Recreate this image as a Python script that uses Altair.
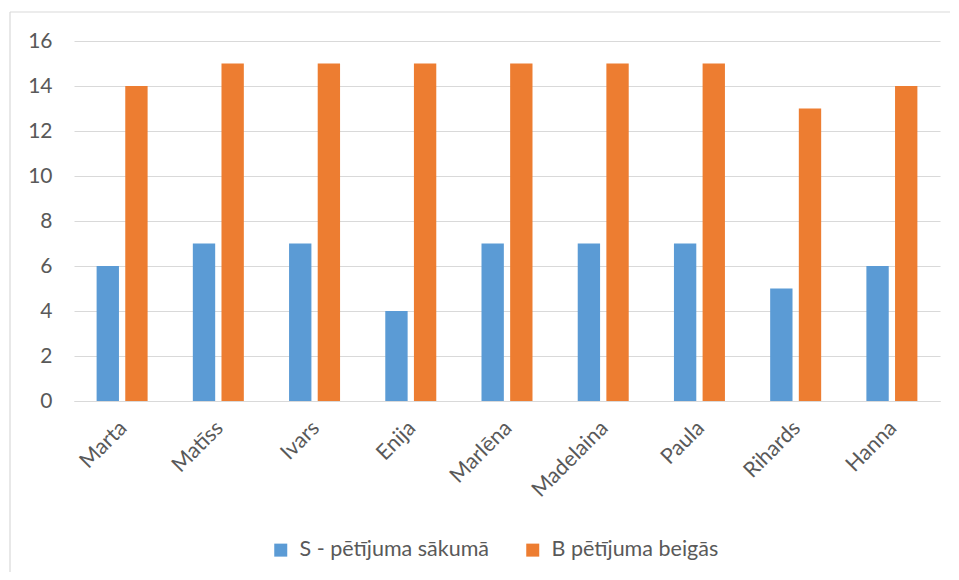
import altair as alt
import pandas as pd

names = ["Marta", "Matīss", "Ivars", "Enija", "Marlēna", "Madelaina", "Paula", "Rihards", "Hanna"]
start_vals = [6, 7, 7, 4, 7, 7, 7, 5, 6]
end_vals = [14, 15, 15, 15, 15, 15, 15, 13, 14]
series = ["S - pētījuma sākumā", "B pētījuma beigās"]
colors = ["#5B9BD5", "#ED7D31"]
y_ticks = [0, 2, 4, 6, 8, 10, 12, 14, 16]

rows = []
for n, s, e in zip(names, start_vals, end_vals):
    rows.append({"name": n, "series": series[0], "value": s})
    rows.append({"name": n, "series": series[1], "value": e})
df = pd.DataFrame(rows)

FONT = "Lato"
TXT = "#595959"
GRID = "#D9D9D9"

bars = alt.Chart(df).mark_bar().encode(
    x=alt.X("name:N", sort=names, title=None,
            scale=alt.Scale(paddingInner=0.47, paddingOuter=0.235),
            axis=alt.Axis(labelAngle=-45, labelFontSize=21.5, labelColor=TXT, labelFont=FONT,
                          ticks=False, tickSize=0, labelPadding=16, labelOffset=-6,
                          domainColor=GRID, domainWidth=1, labelOverlap=False)),
    xOffset=alt.XOffset("series:N", sort=series,
                        scale=alt.Scale(paddingInner=0.22, paddingOuter=0)),
    y=alt.Y("value:Q", title=None,
            scale=alt.Scale(domain=[0, 16], nice=False),
            axis=alt.Axis(values=y_ticks, domain=False, ticks=False, tickSize=0,
                          labelPadding=22, labelFontSize=21, labelColor=TXT, labelFont=FONT,
                          gridColor=GRID, gridWidth=1)),
    color=alt.Color("series:N", sort=series,
                    scale=alt.Scale(domain=series, range=colors),
                    legend=alt.Legend(title=None, orient="none", direction="horizontal",
                                      legendX=196, legendY=498, symbolType="square",
                                      symbolSize=169, symbolStrokeWidth=0, labelFontSize=21.5,
                                      labelColor=TXT, labelFont=FONT, labelOffset=8,
                                      columnPadding=32, labelLimit=400)),
)

border_data = alt.Data(values=[{"k": 1}])
top_border = alt.Chart(border_data).mark_rule(color=GRID, strokeWidth=1.2).encode(
    x=alt.value(-64), x2=alt.value(900), y=alt.value(-29))
left_border = alt.Chart(border_data).mark_rule(color=GRID, strokeWidth=1.2).encode(
    x=alt.value(-64), y=alt.value(-29), y2=alt.value(600))

chart = alt.layer(bars, top_border, left_border).properties(
    width=866, height=360,
    autosize=alt.AutoSizeParams(type="none"),
    padding={"left": 66, "top": 33, "right": 10, "bottom": 171},
    background="white",
).configure_view(strokeWidth=0)

chart.save("out.html", embed_options={"renderer": "svg", "actions": False})
